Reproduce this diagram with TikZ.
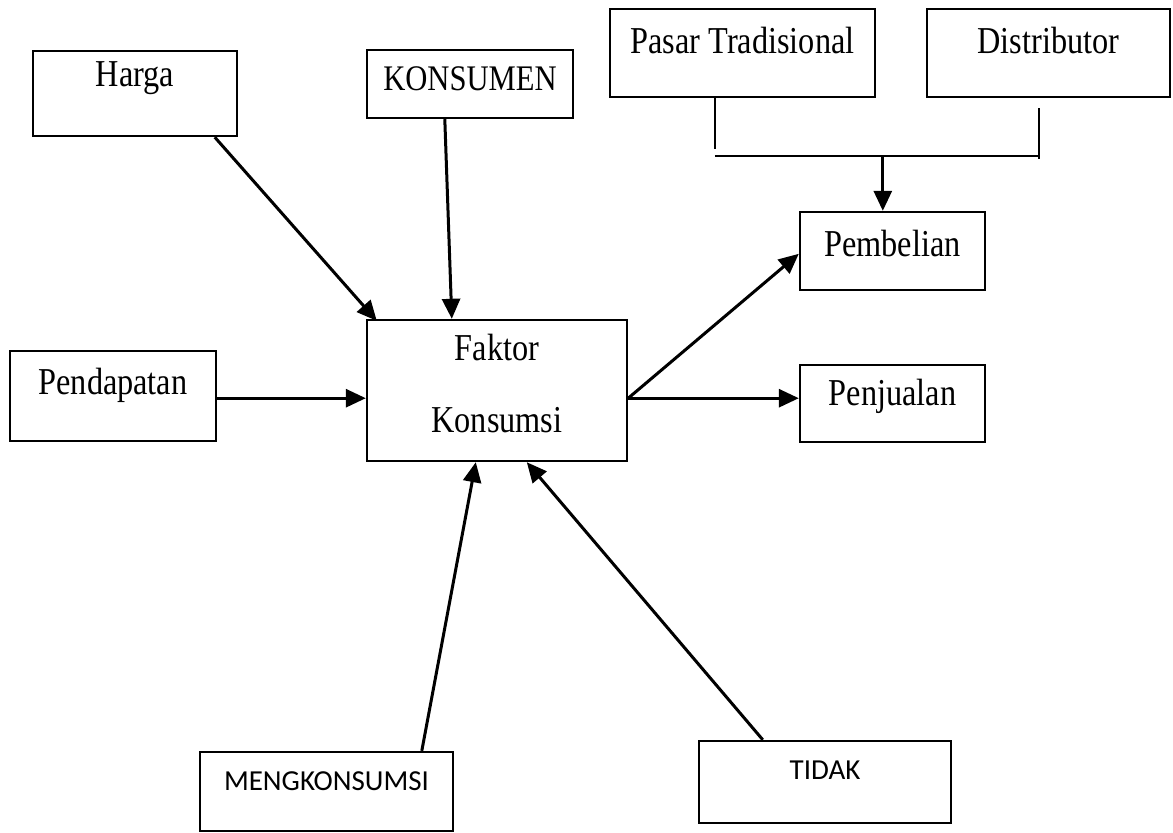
\documentclass[tikz,border=0pt]{standalone}
\usepackage{fontspec}
\setmainfont{Liberation Serif}[FakeStretch=0.85]
\newfontfamily\calfont{Carlito}
\usetikzlibrary{arrows.meta,fit,calc}
\begin{document}
\begin{tikzpicture}[x=0.5pt,y=-0.5pt,
  box/.style={draw,line width=1.2pt,inner sep=0pt,fill=white},
  lbl/.style={anchor=center,font=\fontsize{19}{22}\selectfont},
  slbl/.style={anchor=center,font=\calfont\fontsize{14.5}{17}\selectfont},
  arr/.style={line width=1.5pt,-{Triangle[length=10pt,width=9pt]}},
  ln/.style={line width=1.2pt}]
\useasboundingbox[fill=white] (0,0) rectangle (1173,832);

\node[box,fit={(33,51) (237,136)},label={[lbl,yshift=-14pt]north:Harga}] (harga) {};
\node[box,fit={(367,50) (573,118)},label={[lbl,yshift=-15pt,font=\fontsize{18}{21}\selectfont]north:KONSUMEN}] (konsumen) {};
\node[box,fit={(610,9) (875,97)},label={[lbl,yshift=-16.5pt]north:Pasar Tradisional}] (pasar) {};
\node[box,fit={(927,9) (1170,97)},label={[lbl,yshift=-16.5pt]north:Distributor}] (distributor) {};
\node[box,fit={(800,212) (985,290)},label={[lbl,yshift=-16.5pt]north:Pembelian}] (pembelian) {};
\node[box,fit={(800,365) (985,442)},label={[lbl,yshift=-16.5pt]north:Penjualan}] (penjualan) {};
\node[box,fit={(10,351) (216,441)},label={[lbl,yshift=-18pt]north:Pendapatan}] (pendapatan) {};
\node[box,fit={(367,320) (627,461)},label={[lbl,align=center,yshift=-32.5pt]north:Faktor\\[14pt]Konsumsi}] (faktor) {};
\node[box,fit={(200,752) (453,831)},label={[slbl,yshift=-15pt]north:MENGKONSUMSI}] (mengk) {};
\node[box,fit={(699,741) (951,823)},label={[slbl,yshift=-15pt]north:TIDAK}] (tidak) {};

% connectors into Faktor Konsumsi
\draw[arr] ($(harga.south west)+(183,0)$) -- ($(faktor.north west)+(11,2)$);
\draw[arr] ($(konsumen.south west)+(79,0)$) -- ($(faktor.north west)+(86,0)$);
\draw[arr] ($(pendapatan.south east)+(0,-44)$) -- ($(faktor.south west)+(0,-64)$);
\draw[arr] ($(mengk.north west)+(223,0)$) -- ($(faktor.south west)+(110,0)$);
\draw[arr] ($(tidak.north west)+(65,0)$) -- ($(faktor.south west)+(161,0)$);

% out of Faktor Konsumsi
\coordinate (fo) at ($(faktor.south east)+(0,-64)$);
\draw[arr] (fo) -- ($(pembelian.north west)+(0,43)$);
\draw[arr] (fo) -- (fo -| penjualan.west);

% Pasar / Distributor bracket
\coordinate (pa) at ($(pasar.south west)+(106,0)$);
\coordinate (pb) at ($(pa)+(0,51)$);
\coordinate (hl) at ($(pa)+(0,58)$);
\coordinate (hr) at ($(hl)+(324,0)$);
\coordinate (dt) at ($(distributor.south west)+(113,10)$);
\coordinate (db) at ($(dt)+(0,51)$);
\coordinate (jn) at ($(hl)+(168,0)$);
\draw[ln] (pa) -- (pb);
\draw[ln] (hl) -- (hr);
\draw[ln] (dt) -- (db);
\draw[arr] (jn) -- (jn |- pembelian.north);
\end{tikzpicture}
\end{document}
